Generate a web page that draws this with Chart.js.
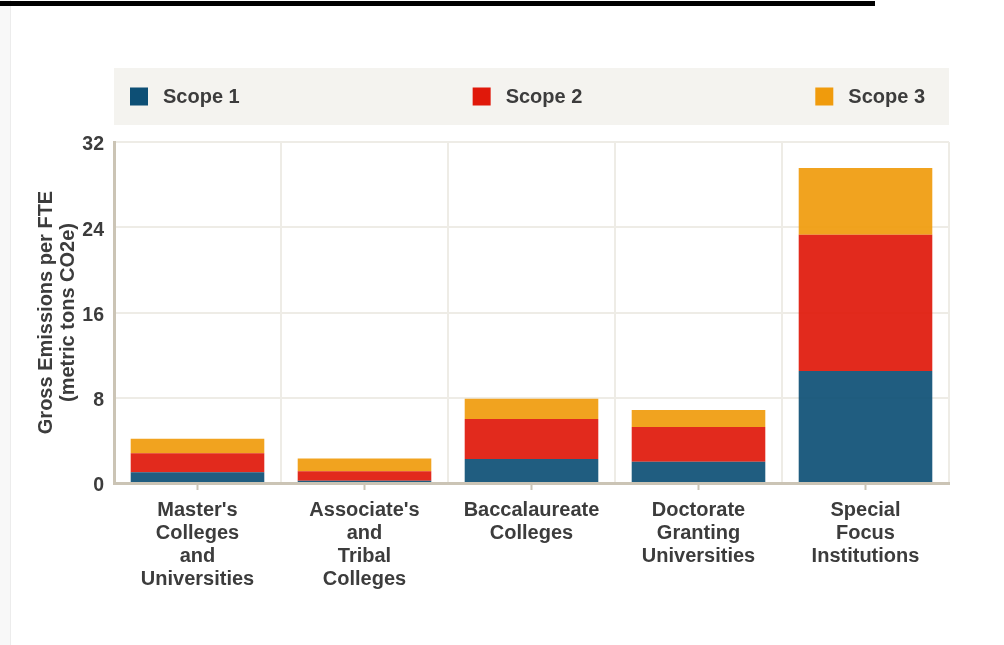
<!DOCTYPE html>
<html>
<head>
<meta charset="utf-8">
<script src="https://cdn.jsdelivr.net/npm/chart.js@4.4.1/dist/chart.umd.min.js"></script>
<style>
  html, body { margin: 0; padding: 0; background: #ffffff; }
  #wrap { position: relative; width: 1004px; height: 645px; overflow: hidden; }
  #topRule { position: absolute; left: 0; top: 1px; width: 875px; height: 5px; background: #000; }
  #leftStrip { position: absolute; left: 0; top: 0; width: 10px; height: 645px; background: #f8f8f8; border-right: 1px solid #ececec; }
  canvas { position: absolute; left: 0; top: 0; }
</style>
</head>
<body>
<div id="wrap">
  <div id="leftStrip"></div>
  <div id="topRule"></div>
  <canvas id="c" width="1004" height="645"></canvas>
</div>
<script>
// ---- data ----
const categories = [
  ["Master's", "Colleges", "and", "Universities"],
  ["Associate's", "and", "Tribal", "Colleges"],
  ["Baccalaureate", "Colleges"],
  ["Doctorate", "Granting", "Universities"],
  ["Special", "Focus", "Institutions"]
];
const seriesNames = ["Scope 1", "Scope 2", "Scope 3"];
const scope1 = [1.0, 0.2, 2.25, 2.0, 10.5];
const scope2 = [1.8, 0.9, 3.75, 3.25, 12.8];
const scope3 = [1.35, 1.2, 1.9, 1.6, 6.25];
const yTicks = [0, 8, 16, 24, 32];

const baseColors = ["#0d4f75", "#e0180a", "#f09b0c"];
const barColors = ["rgba(13,79,117,0.92)", "rgba(224,24,10,0.92)", "rgba(240,155,12,0.92)"];

const FONT = '"Liberation Sans", Arial, sans-serif';
const TEXT = '#3c3c3c';
const AXIS = '#cbc4b5';
const GRID = '#eeece6';

const legendBoxPlugin = {
  id: 'legendBox',
  afterDraw(chart) {
    const ctx = chart.ctx;
    const a = chart.chartArea;
    const top = 68, h = 57;
    ctx.save();
    ctx.fillStyle = '#f4f3ef';
    ctx.fillRect(a.left, top, a.right - a.left, h);
    ctx.font = 'bold 20px ' + FONT;
    ctx.textBaseline = 'middle';
    ctx.textAlign = 'left';
    const sw = 18, gap = 15, padL = 16, padR = 24;
    const ds = chart.data.datasets;
    const widths = ds.map(d => sw + gap + ctx.measureText(d.label).width);
    const total = widths.reduce((s, w) => s + w, 0);
    const avail = (a.right - padR) - (a.left + padL);
    const between = ds.length > 1 ? (avail - total) / (ds.length - 1) : 0;
    let x = a.left + padL;
    const cy = top + h / 2;
    ds.forEach((d, i) => {
      ctx.fillStyle = d.legendColor;
      ctx.fillRect(x, cy - 9, sw, 18);
      ctx.fillStyle = TEXT;
      ctx.fillText(d.label, x + sw + gap, cy + 1);
      x += widths[i] + between;
    });
    ctx.restore();
  }
};

const values = [scope1, scope2, scope3];
const datasets = seriesNames.map((n, i) => ({
  label: n,
  data: values[i],
  backgroundColor: barColors[i],
  legendColor: baseColors[i],
  borderWidth: 0,
  barPercentage: 0.8,
  categoryPercentage: 1.0
}));

new Chart(document.getElementById('c'), {
  type: 'bar',
  data: { labels: categories, datasets },
  options: {
    responsive: false,
    animation: false,
    events: [],
    layout: { padding: { top: 142, left: 24, right: 55, bottom: 20 } },
    plugins: {
      legend: { display: false },
      tooltip: { enabled: false },
      title: { display: false }
    },
    scales: {
      x: {
        type: 'category',
        stacked: true,
        offset: true,
        grid: { offset: false, drawOnChartArea: false, drawTicks: true, tickLength: 7, tickColor: AXIS, tickWidth: 2 },
        border: { display: true, color: AXIS, width: 3 },
        ticks: {
          color: TEXT,
          font: { family: FONT, size: 20, weight: 'bold', lineHeight: 1.15 },
          padding: 9,
          maxRotation: 0,
          autoSkip: false
        },
        afterFit(s) { s.height = 645 - 20 - 483; }
      },
      x2: {
        type: 'category',
        position: 'top',
        offset: true,
        grid: { offset: true, drawOnChartArea: true, drawTicks: false, color: GRID, lineWidth: 2 },
        border: { display: false },
        ticks: { display: false },
        afterFit(s) { s.height = 0; }
      },
      y: {
        stacked: true,
        min: 0,
        max: 32,
        afterBuildTicks(s) { s.ticks = yTicks.map(v => ({ value: v })); },
        grid: { color: GRID, lineWidth: 2, drawTicks: false },
        border: { display: true, color: AXIS, width: 3 },
        ticks: {
          color: TEXT,
          font: { family: FONT, size: 19.5, weight: 'bold' },
          padding: 10,
          labelOffset: 3
        },
        title: {
          display: true,
          text: ["Gross Emissions per FTE", "(metric tons CO2e)"],
          color: TEXT,
          font: { family: FONT, size: 20, weight: 'bold', lineHeight: 1.1 },
          padding: { top: 11, bottom: 0 }
        },
        afterFit(s) { s.width = 114 - 24; }
      }
    }
  },
  plugins: [legendBoxPlugin]
});
</script>
</body>
</html>
